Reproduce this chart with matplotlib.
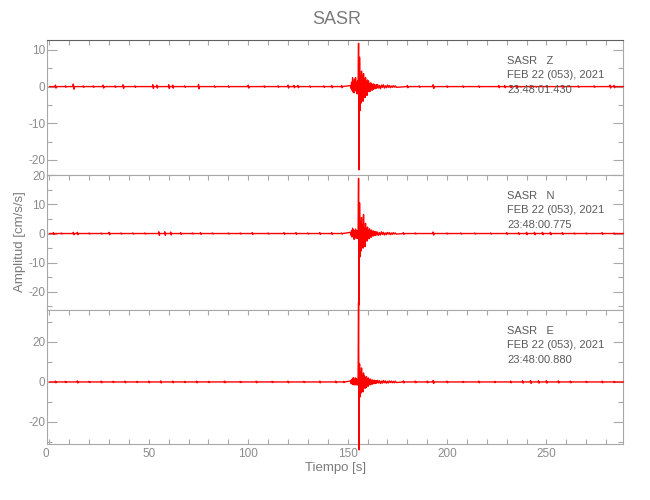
import matplotlib
import numpy as np

matplotlib.use('Agg')
import matplotlib.pyplot as plt
from matplotlib.ticker import MultipleLocator

plt.rcParams['font.family'] = ['Liberation Sans', 'DejaVu Sans']
plt.rcParams['axes.unicode_minus'] = False

# --- data (acceleration, cm/s/s) ---
station = 'SASR'
channels = ['Z', 'N', 'E']
start_times = ['23:48:01.430', '23:48:00.775', '23:48:00.880']
date_str = 'FEB 22 (053), 2021'

# small noise wiggles outside the event: time [s] and peak amplitude
z_bump_t = [3, 8, 12, 17, 22, 27, 33, 37, 43, 52, 54, 60, 62, 68, 75, 83, 90, 100, 108, 115,
            120, 123, 125, 131, 138, 142, 147, 180, 186, 193, 200, 208, 216, 226, 229, 232, 235, 242, 250, 258,
            266, 274, 282, 284]
z_bump_a = [0.4, 0.2, 0.7, 0.2, 0.2, 0.4, 0.2, 0.5, 0.2, 0.5, 0.4, 0.5, 0.4, 0.2, 0.6, 0.2, 0.2, 0.4, 0.2, 0.2,
            0.4, 0.3, 0.3, 0.2, 0.2, 0.3, 0.3, 0.3, 0.2, 0.5, 0.2, 0.2, 0.2, 0.3, 0.3, 0.3, 0.3, 0.2, 0.2, 0.2,
            0.2, 0.2, 0.4, 0.3]
n_bump_t = [2, 6, 12, 14, 20, 26, 30, 36, 42, 48, 55, 58, 61, 66, 72, 76, 82, 90, 96, 102,
            110, 118, 124, 130, 136, 142, 147, 178, 184, 193, 200, 207, 214, 222, 230, 236, 240, 244, 248, 252,
            258, 264, 270, 278, 284]
n_bump_a = [0.3, 0.2, 0.4, 0.4, 0.2, 0.2, 0.4, 0.2, 0.2, 0.2, 0.6, 0.6, 0.5, 0.3, 0.2, 0.3, 0.2, 0.2, 0.2, 0.3,
            0.2, 0.3, 0.3, 0.2, 0.3, 0.3, 0.2, 0.3, 0.2, 0.5, 0.2, 0.2, 0.2, 0.2, 0.3, 0.3, 0.4, 0.4, 0.4, 0.4,
            0.3, 0.2, 0.2, 0.3, 0.2]
e_bump_t = [3, 8, 14, 20, 26, 32, 38, 44, 50, 56, 62, 68, 74, 80, 88, 96, 104, 112, 120, 128,
            136, 144, 148, 178, 184, 190, 193, 200, 208, 216, 224, 232, 238, 242, 246, 250, 256, 262, 270, 278,
            284]
e_bump_a = [0.4, 0.3, 0.5, 0.3, 0.4, 0.3, 0.4, 0.3, 0.4, 0.5, 0.4, 0.3, 0.4, 0.3, 0.4, 0.3, 0.4, 0.3, 0.4, 0.3,
            0.4, 0.4, 0.3, 0.5, 0.4, 0.4, 0.7, 0.4, 0.3, 0.4, 0.3, 0.4, 0.6, 0.7, 0.6, 0.6, 0.5, 0.4, 0.3, 0.4,
            0.3]

# main burst, samples every 0.25 s from 151.5 s
burst_t0, burst_dt = 151.5, 0.25
z_burst = [0.3, -0.5, 1.2, -1.0, 2.4, -1.5, 1.4, -1.7, 2.0, -0.9, 2.4, -1.2, 1.1, -2.0, 1.5, -1.0,
           11.8, -22.7, 8.0, -6.5, 3.0, -4.5, 4.2, -2.0, 2.8, -4.0, 3.5, -2.5, 2.0, -3.0, 2.5, -1.5,
           1.2, -2.4, 1.8, -1.0, 1.5, -1.4, 0.8, -1.3, 1.0, -0.6, 0.9, -1.0, 0.5, -0.8, 0.7, -0.4,
           0.6, -0.6, 0.3, -0.5, 0.5, -0.3]
n_burst = [0.4, -0.6, 1.0, -1.2, 1.8, -1.0, 1.2, -2.0, 0.8, -1.6, 1.5, -0.9, 1.0, -1.7, 0.8, -1.0,
           18.9, -24.5, 10.5, -8.0, 4.0, -6.0, 5.5, -3.0, 3.0, -5.0, 6.5, -2.5, 2.0, -4.5, 3.5, -2.0,
           1.5, -2.6, 2.2, -1.2, 1.0, -1.8, 1.6, -0.8, 0.9, -1.3, 1.2, -0.6, 0.7, -0.9, 0.9, -0.5,
           0.5, -0.7, 0.6, -0.4, 0.5, -0.5]
e_burst = [0.5, -0.8, 1.2, -1.0, 1.8, -1.2, 2.2, -1.5, 1.0, -1.4, 2.0, -0.8, 1.5, -1.6, 1.2, -1.0,
           40.0, -34.0, 9.0, -7.5, 5.0, -5.5, 7.0, -3.0, 3.5, -5.0, 4.5, -2.2, 3.0, -3.2, 2.0, -2.8,
           2.6, -1.5, 1.6, -2.2, 2.0, -1.0, 1.1, -1.5, 1.4, -0.8, 0.8, -1.2, 1.0, -0.6, 0.7, -0.9,
           0.8, -0.5, 0.5, -0.7, 0.6, -0.4]

# coda, samples every 0.5 s from 165 s
coda_t0, coda_dt = 165.0, 0.5
z_coda = [0.6, -0.4, 0.3, -0.6, 0.4, -0.2, 0.5, -0.4, 0.2, -0.3, 0.4, -0.2, 0.3, -0.3, 0.15, -0.2, 0.25, -0.15, 0.2, -0.2]
n_coda = [0.5, -0.6, 0.3, -0.5, 0.6, -0.3, 0.4, -0.5, 0.2, -0.4, 0.4, -0.2, 0.3, -0.4, 0.2, -0.3, 0.3, -0.15, 0.2, -0.2]
e_coda = [0.8, -0.5, 0.6, -0.8, 0.4, -0.6, 0.7, -0.4, 0.5, -0.6, 0.3, -0.5, 0.5, -0.3, 0.4, -0.4, 0.3, -0.4, 0.4, -0.3]

t_end = 288.7
y_limits = [(-24.1, 12.7), (-26.2, 20.05), (-30.8, 36.0)]
y_major = [10, 10, 20]
y_minor = [5, 5, 10]
x_ticks = [0, 50, 100, 150, 200, 250]
x_limits = (-1, t_end)


def build_trace(bump_t, bump_a, burst, coda):
    t = [0.0, t_end]
    a = [0.0, 0.0]
    for tb, ab in zip(bump_t, bump_a):
        t += [tb - 0.2, tb, tb + 0.3, tb + 0.5]
        a += [0.0, ab, -ab, 0.0]
    t += list(burst_t0 + burst_dt * np.arange(len(burst)))
    a += burst
    t += list(coda_t0 + coda_dt * np.arange(len(coda)))
    a += coda
    t = np.array(t)
    a = np.array(a)
    order = np.argsort(t, kind='stable')
    return t[order], a[order]


traces = [
    build_trace(z_bump_t, z_bump_a, z_burst, z_coda),
    build_trace(n_bump_t, n_bump_a, n_burst, n_coda),
    build_trace(e_bump_t, e_bump_a, e_burst, e_coda),
]

spine_col = '#a8a8a8'
label_col = '#8c8c8c'
text_col = '#5a5a5a'

fig = plt.figure(figsize=(6.5, 5), dpi=100)
left, width = 0.073, 0.886
bottoms = [0.65, 0.38, 0.113]
heights = [0.27, 0.27, 0.267]

for i, (t, a) in enumerate(traces):
    ax = fig.add_axes([left, bottoms[i], width, heights[i]])
    ax.plot(t, a, color='#ff0000', lw=1.0, clip_on=False, zorder=3)
    ax.set_xlim(*x_limits)
    ax.set_ylim(*y_limits[i])
    ax.xaxis.set_major_locator(MultipleLocator(50))
    ax.xaxis.set_minor_locator(MultipleLocator(10))
    ax.yaxis.set_major_locator(MultipleLocator(y_major[i]))
    ax.yaxis.set_minor_locator(MultipleLocator(y_minor[i]))
    last = i == 2
    ax.tick_params(axis='x', which='both', direction='in', length=3.6, width=0.8,
                   top=True, bottom=last, labelbottom=last, color=spine_col,
                   labelcolor=label_col, labelsize=8.5, pad=3)
    ax.tick_params(axis='y', which='major', direction='in', length=7, width=0.8,
                   left=True, right=True, color=spine_col, labelcolor=label_col,
                   labelsize=8.5, pad=1.5)
    ax.tick_params(axis='y', which='minor', direction='in', length=3.5, width=0.8,
                   left=True, right=True, color=spine_col)
    for s in ax.spines.values():
        s.set_color(spine_col)
        s.set_linewidth(0.8)
    if i == 0:
        ax.spines['top'].set_color('#606060')
    if last:
        ax.set_xticks(x_ticks)
        ax.set_xticklabels([str(v) for v in x_ticks])
        ax.get_xticklabels()[0].set_horizontalalignment('right')

    h_px = heights[i] * 500
    lines = [f'{station}   {channels[i]}', date_str, start_times[i]]
    for k, txt in enumerate(lines):
        ax.text(0.798, 1 - (21 + 14.3 * k) / h_px, txt, transform=ax.transAxes,
                ha='left', va='center', fontsize=8, color=text_col, zorder=4)

fig.text(0.518, 0.96, station, ha='center', va='center', fontsize=13, color='#7a7a7a')
fig.text(0.517, 0.064, 'Tiempo [s]', ha='center', va='center', fontsize=9.5, color='#7a7a7a')
fig.text(0.031, 0.516, 'Amplitud [cm/s/s]', ha='center', va='center', rotation=90,
         fontsize=9.5, color='#7a7a7a')

fig.savefig('out.png', dpi=100)
